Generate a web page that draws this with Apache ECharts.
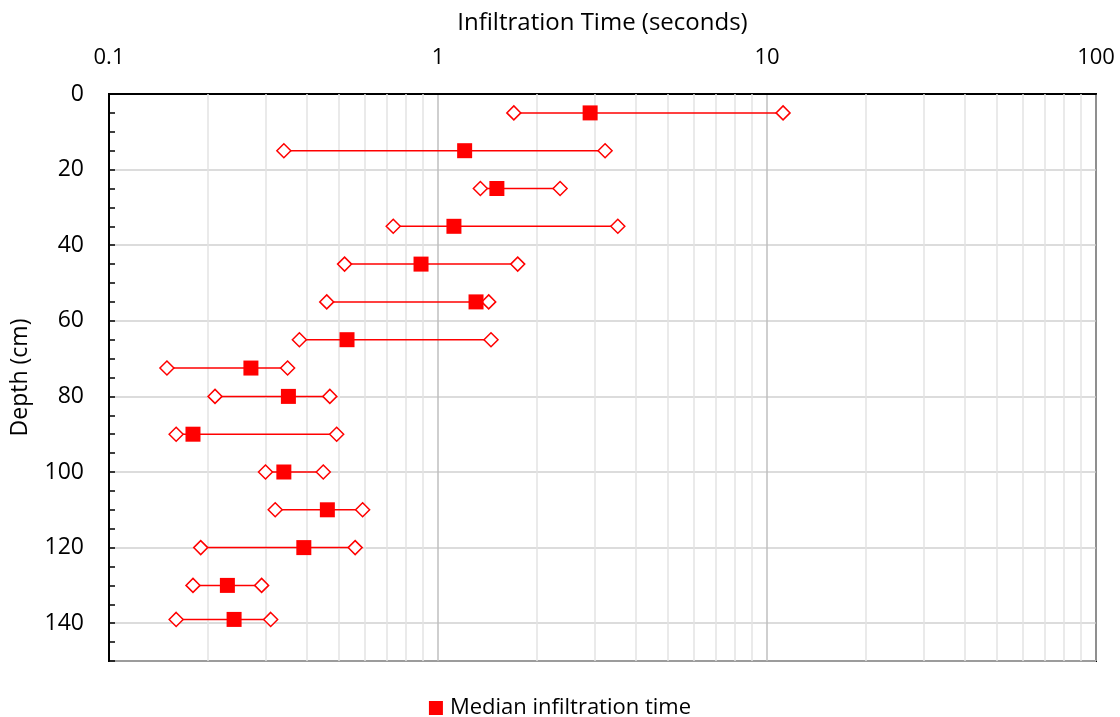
<!DOCTYPE html>
<html>
<head>
<meta charset="utf-8">
<script src="https://cdn.jsdelivr.net/npm/echarts@6/dist/echarts.min.js"></script>
<style>
  html, body { margin: 0; padding: 0; background: #ffffff; }
  #chart { width: 1120px; height: 717px; }
</style>
</head>
<body>
<div id="chart"></div>
<script>
// Depth of each measurement (cm)
const depths = [5, 15, 25, 35, 45, 55, 65, 72.5, 80, 90, 100, 110, 120, 130, 139];
// Infiltration time range per depth (seconds)
const minTimes = [1.70, 0.340, 1.345, 0.731, 0.520, 0.459, 0.379, 0.150, 0.210, 0.160, 0.299, 0.320, 0.190, 0.180, 0.160];
const medianTimes = [2.90, 1.205, 1.51, 1.118, 0.888, 1.305, 0.529, 0.270, 0.351, 0.180, 0.340, 0.461, 0.391, 0.229, 0.240];
const maxTimes = [11.19, 3.22, 2.35, 3.52, 1.747, 1.426, 1.449, 0.349, 0.469, 0.492, 0.448, 0.590, 0.560, 0.291, 0.310];
// Minor log gridlines between decades
const minorGridValues = [0.2, 0.3, 0.4, 0.5, 0.6, 0.7, 0.8, 0.9,
                         2, 3, 4, 5, 6, 7, 8, 9,
                         20, 30, 40, 50, 60, 70, 80, 90];

const FONT = '"Open Sans", "Noto Sans", sans-serif';
const RED = '#ff0000';

const chart = echarts.init(document.getElementById('chart'), null, { renderer: 'canvas' });

const rangeData = depths.map((d, i) => [minTimes[i], maxTimes[i], d]);
const minData = depths.map((d, i) => [minTimes[i], d]);
const medData = depths.map((d, i) => [medianTimes[i], d]);
const maxData = depths.map((d, i) => [maxTimes[i], d]);

const diamondStyle = { color: '#ffffff', borderColor: RED, borderWidth: 1.5, opacity: 1 };

chart.setOption({
  animation: false,
  backgroundColor: '#ffffff',
  grid: {
    left: 109, right: 24, top: 94, bottom: 56,
    show: true, borderColor: '#000000', borderWidth: 2, backgroundColor: 'transparent'
  },
  legend: {
    data: ['Median infiltration time'],
    top: 692,
    left: 'center',
    icon: 'rect',
    itemWidth: 14,
    itemHeight: 14,
    itemGap: 6,
    textStyle: { fontFamily: FONT, fontSize: 22, color: '#000000', padding: [0, 0, 0, 2] }
  },
  xAxis: {
    type: 'log',
    logBase: 10,
    min: 0.1,
    max: 100,
    position: 'top',
    name: 'Infiltration Time (seconds)',
    nameLocation: 'middle',
    nameGap: 59,
    nameTextStyle: { fontFamily: FONT, fontSize: 24, color: '#000000' },
    axisLine: { show: true, lineStyle: { color: '#000000', width: 2 } },
    axisTick: { show: false },
    axisLabel: {
      margin: 25,
      fontFamily: FONT, fontSize: 22, color: '#000000',
      formatter: v => String(+v.toPrecision(3))
    },
    splitLine: { show: true, lineStyle: { color: '#bfbfbf', width: 1.5 } }
  },
  yAxis: {
    type: 'value',
    inverse: true,
    min: 0,
    max: 150,
    interval: 20,
    name: 'Depth (cm)',
    nameLocation: 'middle',
    nameGap: 77,
    nameRotate: 90,
    nameTextStyle: { fontFamily: FONT, fontSize: 23, color: '#000000' },
    axisLine: { show: true, lineStyle: { color: '#000000', width: 2 } },
    axisTick: { show: true, inside: true, length: 6, lineStyle: { color: '#000000', width: 1.5 } },
    minorTick: { show: true, splitNumber: 4, length: 6, lineStyle: { color: '#000000', width: 1.5 } },
    axisLabel: {
      margin: 25,
      fontFamily: FONT, fontSize: 23, color: '#000000',
      formatter: v => (v % 20 === 0 ? String(v) : '')
    },
    splitLine: { show: true, lineStyle: { color: '#d0d0d0', width: 1.5 } }
  },
  series: [
    {
      // light minor gridlines on the log axis
      name: 'minor-grid',
      type: 'line',
      data: [],
      silent: true,
      markLine: {
        silent: true,
        z: 1,
        symbol: 'none',
        label: { show: false },
        lineStyle: { color: '#e3e3e3', width: 1.5, type: 'solid' },
        data: minorGridValues.map(v => ({ xAxis: v }))
      },
      z: 0
    },
    {
      name: 'Range',
      type: 'custom',
      data: rangeData,
      encode: { x: [0, 1], y: 2 },
      renderItem: (params, api) => {
        const p1 = api.coord([api.value(0), api.value(2)]);
        const p2 = api.coord([api.value(1), api.value(2)]);
        return {
          type: 'line',
          shape: { x1: p1[0], y1: p1[1], x2: p2[0], y2: p2[1] },
          style: { stroke: RED, lineWidth: 1.5 }
        };
      },
      z: 2
    },
    {
      name: 'Minimum',
      type: 'scatter',
      data: minData,
      symbol: 'diamond',
      symbolSize: 14,
      itemStyle: diamondStyle,
      z: 3
    },
    {
      name: 'Median infiltration time',
      type: 'scatter',
      data: medData,
      symbol: 'rect',
      symbolSize: 15,
      itemStyle: { color: RED, opacity: 1 },
      z: 4
    },
    {
      name: 'Maximum',
      type: 'scatter',
      data: maxData,
      symbol: 'diamond',
      symbolSize: 14,
      itemStyle: diamondStyle,
      z: 3
    }
  ]
});
</script>
</body>
</html>
